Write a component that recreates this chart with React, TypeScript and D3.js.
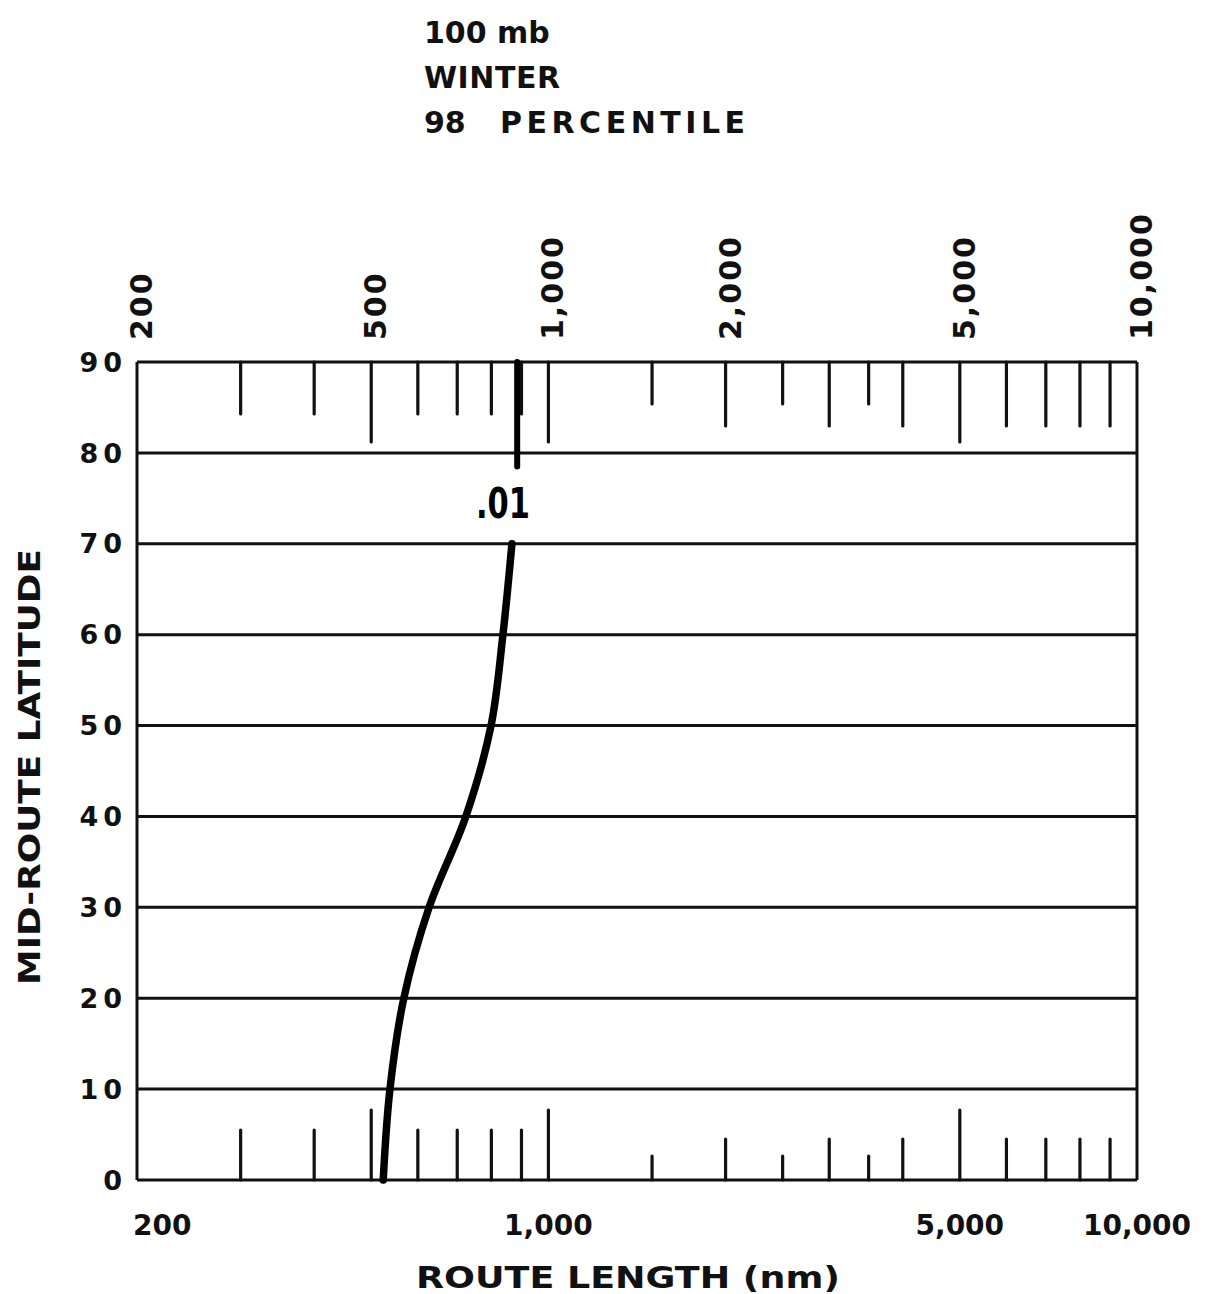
import React from "react";
import * as d3 from "d3";

const titleLines = ["100 mb", "WINTER", "98   PERCENTILE"];
const latTicks = [0, 10, 20, 30, 40, 50, 60, 70, 80, 90];
const minorTicks = [300, 400, 500, 600, 700, 800, 900, 1000, 1500, 2000, 2500, 3000, 3500, 4000, 5000, 6000, 7000, 8000, 9000];
const majorTicks = [500, 1000, 5000];
const shortTicks = [1500, 2500, 3500];
const topLabels = [200, 500, 1000, 2000, 5000, 10000];
const bottomLabels = [200, 1000, 5000, 10000];
const curveLat = [0, 10, 20, 30, 40, 50, 60, 70];
const curveLen = [524, 538, 568, 627, 724, 799, 837, 867];
const upperLat = [90, 78.5];
const upperLen = [885, 885];
const curveLabel = ".01";
const xTitle = "ROUTE LENGTH (nm)";
const yTitle = "MID-ROUTE LATITUDE";

const W = 1209, H = 1294;
const L = 137, R = 1137, T = 362, B = 1180;
const FONT = "'DejaVu Sans', sans-serif";

export default function App() {
  const x = d3.scaleLog().domain([200, 10000]).range([L, R]);
  const y = d3.scaleLinear().domain([0, 90]).range([B, T]);
  const fmt = d3.format(",");
  const pts = curveLat.map((lat, i) => ({ lat, len: curveLen[i] }));
  const up = upperLat.map((lat, i) => ({ lat, len: upperLen[i] }));
  const line = d3.line<{ lat: number; len: number }>()
    .x(d => x(d.len)).y(d => y(d.lat)).curve(d3.curveCatmullRom.alpha(0.5));
  const lineStraight = d3.line<{ lat: number; len: number }>().x(d => x(d.len)).y(d => y(d.lat));

  const topLen = (v: number) => majorTicks.includes(v) ? 80 : shortTicks.includes(v) ? 42 : v < 1000 ? 52 : 64;
  const botLen = (v: number) => majorTicks.includes(v) ? 70 : shortTicks.includes(v) ? 24 : v < 1000 ? 50 : 41;

  const line3 = titleLines[2].split(/\s+/);

  return (
    <svg width={W} height={H} style={{ position: "absolute", left: 0, top: 0, background: "#fff" }} fontFamily={FONT}>
      <rect x={0} y={0} width={W} height={H} fill="#fff" />
      <text x={424} y={43} fontSize={30} fontWeight="bold" fill="#111">{titleLines[0]}</text>
      <text x={424} y={88} fontSize={30} fontWeight="bold" fill="#111" textLength={136} lengthAdjust="spacing">{titleLines[1]}</text>
      <text y={133} fontSize={30} fontWeight="bold" fill="#111">
        <tspan x={424}>{line3[0]}</tspan>
        <tspan x={500} textLength={245} lengthAdjust="spacing">{line3[1]}</tspan>
      </text>
      {/* gridlines */}
      {latTicks.map(v => (
        <line key={"g" + v} x1={L} x2={R} y1={y(v)} y2={y(v)} stroke="#111" strokeWidth={3} />
      ))}
      <line x1={L} x2={L} y1={T} y2={B} stroke="#111" strokeWidth={3} />
      <line x1={R} x2={R} y1={T} y2={B} stroke="#111" strokeWidth={3} />
      {/* top ticks */}
      {minorTicks.map(v => (
        <line key={"t" + v} x1={x(v)} x2={x(v)} y1={T} y2={T + topLen(v)} stroke="#111" strokeWidth={3.2} strokeLinecap="round" />
      ))}
      {minorTicks.map(v => (
        <line key={"b" + v} x1={x(v)} x2={x(v)} y1={B} y2={B - botLen(v)} stroke="#111" strokeWidth={3.2} strokeLinecap="round" />
      ))}
      {/* y labels */}
      {latTicks.map(v => (
        <text key={"yl" + v} x={127} y={y(v)} dy="0.36em" textAnchor="end" fontSize={27} fontWeight="bold" letterSpacing={5} fill="#111">{v}</text>
      ))}
      <text transform={`translate(40,${(T + B) / 2 - 4}) rotate(-90)`} textAnchor="middle" fontSize={30} fontWeight="bold" fill="#111"
        textLength={436} lengthAdjust="spacingAndGlyphs">{yTitle}</text>
      {/* top labels */}
      {topLabels.map(v => (
        <text key={"tl" + v} transform={`translate(${x(v) + 15},340) rotate(-90)`} textAnchor="start" fontSize={30} fontWeight="bold" letterSpacing={2} fill="#111">{fmt(v)}</text>
      ))}
      {/* bottom labels */}
      {bottomLabels.map((v, i) => (
        <text key={"bl" + v} x={i === 0 ? 133 : x(v)} y={1235} textAnchor={i === 0 ? "start" : "middle"} fontSize={28} fontWeight="bold" fill="#111">{fmt(v)}</text>
      ))}
      <text x={628} y={1288} textAnchor="middle" fontSize={30} fontWeight="bold" fill="#111" textLength={424} lengthAdjust="spacingAndGlyphs">{xTitle}</text>
      {/* curve */}
      <path d={line(pts) || ""} fill="none" stroke="#000" strokeWidth={7.5} strokeLinecap="round" />
      <path d={lineStraight(up) || ""} fill="none" stroke="#000" strokeWidth={6} strokeLinecap="round" />
      <text x={503} y={518} textAnchor="middle" fontSize={42} fontWeight="bold" fill="#000" textLength={54} lengthAdjust="spacingAndGlyphs">{curveLabel}</text>
    </svg>
  );
}
